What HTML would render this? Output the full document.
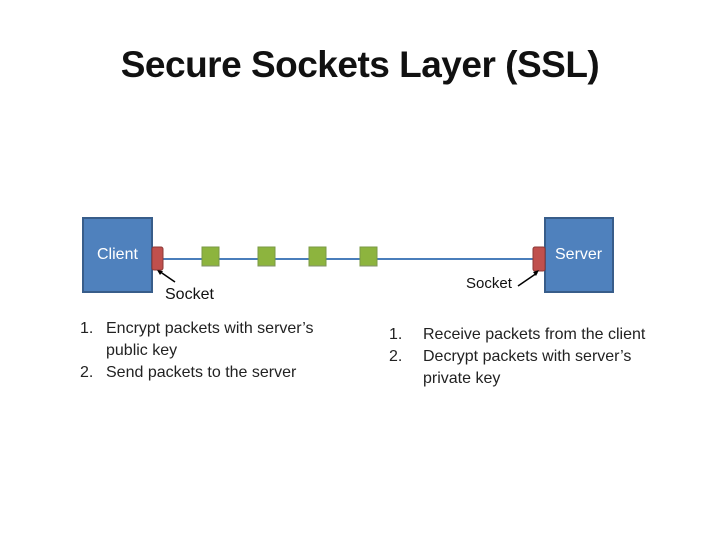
<!DOCTYPE html>
<html><head><style>
body{margin:0;width:720px;height:540px;background:#fff;position:relative;overflow:hidden;font-family:"Liberation Sans",sans-serif}
.a{position:absolute;white-space:nowrap}
.t{font-size:16px;color:#222;line-height:22px}
</style></head><body>
<div class="a" style="left:0;width:720px;top:44px;text-align:center;font-size:37px;font-weight:bold;color:#111;letter-spacing:-0.5px">Secure Sockets Layer (SSL)</div>
<svg class="a" style="left:0;top:0" width="720" height="540">
<rect x="83" y="218" width="69" height="74" fill="#4f81bd" stroke="#385d8a" stroke-width="2"/>
<rect x="545" y="218" width="68" height="74" fill="#4f81bd" stroke="#385d8a" stroke-width="2"/>
<line x1="163" y1="259" x2="534" y2="259" stroke="#4a7ebb" stroke-width="2"/>
<g fill="#8db43e" stroke="#7a9a44"><rect x="202" y="247" width="17" height="19"/><rect x="258" y="247" width="17" height="19"/><rect x="309" y="247" width="17" height="19"/><rect x="360" y="247" width="17" height="19"/></g>
<g stroke="#888" stroke-width="1" opacity="0.6"><line x1="202" y1="266" x2="219" y2="266"/><line x1="258" y1="266" x2="275" y2="266"/><line x1="309" y1="266" x2="326" y2="266"/><line x1="360" y1="266" x2="377" y2="266"/></g>
<rect x="152" y="247" width="11" height="23" rx="2" fill="#c0504d" stroke="#8c3836"/>
<rect x="533" y="247" width="12" height="24" rx="2" fill="#c0504d" stroke="#8c3836"/>
<line x1="175" y1="282" x2="159" y2="271" stroke="#000" stroke-width="1.5"/>
<polygon points="157,270 163,271 160,275" fill="#000"/>
<line x1="518" y1="286" x2="537" y2="273" stroke="#000" stroke-width="1.5"/>
<polygon points="539,270 536,276 533,272" fill="#000"/>
</svg>
<div class="a" style="left:97px;top:246px;font-size:16px;color:#fff">Client</div>
<div class="a" style="left:555px;top:246px;font-size:16px;color:#fff">Server</div>
<div class="a" style="left:165px;top:286px;font-size:16px;color:#111">Socket</div>
<div class="a" style="left:466px;top:275px;font-size:15px;color:#111">Socket</div>
<div class="a t" style="left:80px;top:318px">1.</div>
<div class="a t" style="left:106px;top:318px">Encrypt packets with server’s<br>public key<br>Send packets to the server</div>
<div class="a t" style="left:80px;top:362px">2.</div>
<div class="a t" style="left:389px;top:324px">1.</div>
<div class="a t" style="left:423px;top:324px">Receive packets from the client<br>Decrypt packets with server’s<br>private key</div>
<div class="a t" style="left:389px;top:346px">2.</div>
</body></html>
